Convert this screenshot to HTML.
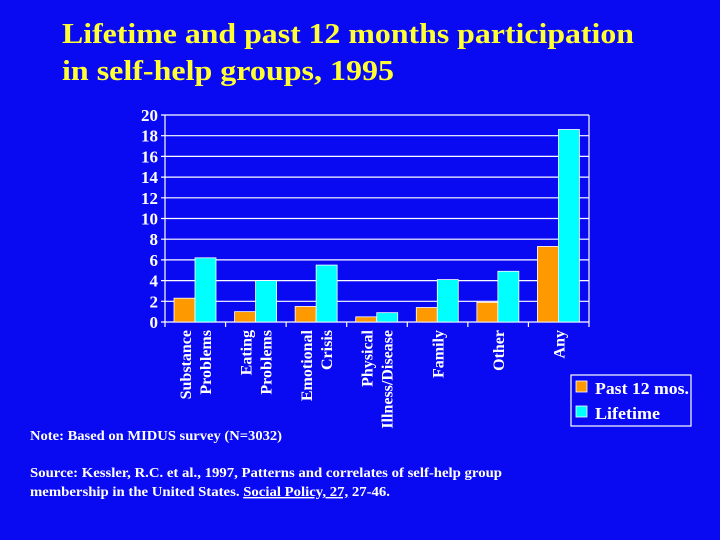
<!DOCTYPE html>
<html><head><meta charset="utf-8"><style>
html,body{margin:0;padding:0;background:#0a0af2;}
svg{display:block;font-family:"Liberation Serif",serif;font-weight:bold;}
</style></head><body>
<svg width="720" height="540">
<rect width="720" height="540" fill="#0a0af2"/>
<text x="62" y="43" fill="#ffff33" font-size="29" textLength="572" lengthAdjust="spacingAndGlyphs">Lifetime and past 12 months participation</text>
<text x="62" y="80" fill="#ffff33" font-size="29" textLength="332" lengthAdjust="spacingAndGlyphs">in self-help groups, 1995</text>
<g id="plot"></g>
<g>
<rect x="571" y="375" width="120" height="51" fill="none" stroke="#fff" stroke-width="1.2"/>
<rect x="576" y="381" width="11" height="11" fill="#ff9900" stroke="#fff" stroke-width="0.8"/>
<text x="595" y="394" fill="#fff" font-size="17" textLength="94" lengthAdjust="spacingAndGlyphs">Past 12 mos.</text>
<rect x="576" y="406" width="11" height="11" fill="#00ffff" stroke="#fff" stroke-width="0.8"/>
<text x="595" y="419" fill="#fff" font-size="17" textLength="65" lengthAdjust="spacingAndGlyphs">Lifetime</text>
</g>
<text x="30" y="440" fill="#fff" font-size="14" textLength="252" lengthAdjust="spacingAndGlyphs">Note: Based on MIDUS survey (N=3032)</text>
<text x="30" y="477" fill="#fff" font-size="14" textLength="472" lengthAdjust="spacingAndGlyphs">Source: Kessler, R.C. et al., 1997, Patterns and correlates of self-help group</text>
<text x="30" y="496" fill="#fff" font-size="14" textLength="360" lengthAdjust="spacingAndGlyphs">membership in the United States.  <tspan text-decoration="underline">Social Policy, 27,</tspan> 27-46.</text>
</svg>
<script>
const categories=[["Substance","Problems"],["Eating","Problems"],["Emotional","Crisis"],["Physical","Illness/Disease"],["Family"],["Other"],["Any"]];
const past12=[2.3,1.0,1.5,0.5,1.4,1.9,7.3];
const lifetime=[6.2,4.0,5.5,0.9,4.1,4.9,18.6];
const yTicks=[0,2,4,6,8,10,12,14,16,18,20];
const NS="http://www.w3.org/2000/svg";
const g=document.getElementById('plot');
const X0=165,X1=589,Y0=322,Y1=115,YMAX=20;
const y=v=>Y0-(v/YMAX)*(Y0-Y1);
const cw=(X1-X0)/categories.length;
const cx=i=>X0+i*cw;
function mk(t,a){const e=document.createElementNS(NS,t);for(const k in a)e.setAttribute(k,a[k]);g.appendChild(e);return e;}
yTicks.forEach(v=>{
  const l=mk('line',{x1:X0-4,x2:X1,y1:y(v),y2:y(v),stroke:'#fff','stroke-width':1.2});
  
  
  const t=mk('text',{x:X0-7,y:y(v)+6,fill:'#fff','font-size':17,'text-anchor':'end'});
  t.textContent=v;
  
  
});
let ax=mk('line',{x1:X0,x2:X0,y1:Y1,y2:Y0,stroke:'#fff','stroke-width':1.2});


let rb=mk('line',{x1:X1,x2:X1,y1:Y1,y2:Y0,stroke:'#fff','stroke-width':1.2});


for(let i=0;i<=categories.length;i++){
  const tk=mk('line',{x1:cx(i),x2:cx(i),y1:Y0,y2:Y0+5,stroke:'#fff','stroke-width':1.2});
  
  
}
const bw=21;
categories.forEach((c,i)=>{
  const b1=mk('rect',{x:cx(i)+9,y:y(past12[i]),width:bw,height:Y0-y(past12[i]),fill:'#ff9900',stroke:'#fff','stroke-width':0.8});
  
  
  const b2=mk('rect',{x:cx(i)+9+bw,y:y(lifetime[i]),width:bw,height:Y0-y(lifetime[i]),fill:'#00ffff',stroke:'#fff','stroke-width':0.8});
  
  
  const mid=cx(i)+9+bw;
  const n=c.length;
  c.forEach((line,j)=>{
    const lx=mid+(j-(n-1)/2)*20+6;
    const t=mk('text',{x:0,y:0,fill:'#fff','font-size':16,'text-anchor':'end',transform:`translate(${lx},330) rotate(-90)`});
    t.textContent=line;
    
    
  });
});
</script>
</body></html>
